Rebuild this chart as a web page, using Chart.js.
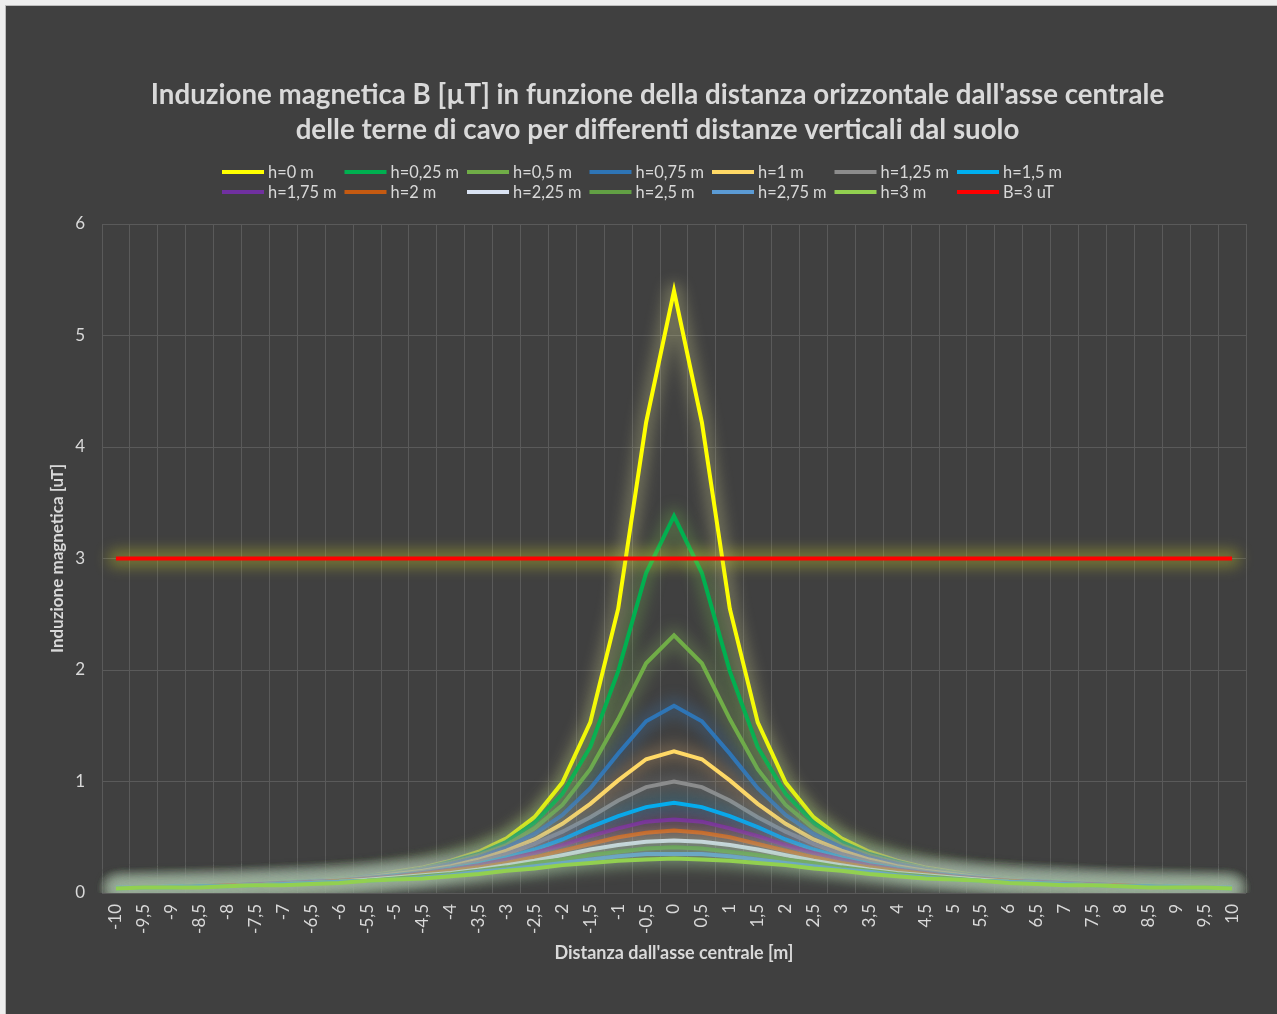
<!DOCTYPE html>
<html>
<head>
<meta charset="utf-8">
<title>Induzione magnetica B</title>
<script src="https://cdn.jsdelivr.net/npm/chart.js@4.4.1/dist/chart.umd.min.js"></script>
<style>
  html, body { margin: 0; padding: 0; background: #eeeeee; }
  #frame {
    position: absolute; left: 5px; top: 5px;
    width: 1272px; height: 1009px;
    border-left: 1px solid #bdbdbd; border-top: 1px solid #bdbdbd;
    background: #404040;
  }
  #chart { display: block; width: 1271px; height: 1008px; }
</style>
</head>
<body>
<div id="frame"><canvas id="chart" width="1271" height="1008"></canvas></div>
<script>
// Horizontal distance from the central axis [m]
const distances = ['-10','-9,5','-9','-8,5','-8','-7,5','-7','-6,5','-6','-5,5','-5','-4,5','-4','-3,5','-3','-2,5','-2','-1,5','-1','-0,5',
  '0','0,5','1','1,5','2','2,5','3','3,5','4','4,5','5','5,5','6','6,5','7','7,5','8','8,5','9','9,5','10'];

// Magnetic induction B [µT] for each vertical distance h above the ground
const h0_00 = [0.05,0.05,0.06,0.07,0.07,0.08,0.10,0.11,0.13,0.15,0.19,0.23,0.29,0.37,0.49,0.68,0.99,1.53,2.55,4.22,5.40,4.22,2.55,1.53,0.99,0.68,0.49,0.37,0.29,0.23,0.19,0.15,0.13,0.11,0.10,0.08,0.07,0.07,0.06,0.05,0.05];
const h0_25 = [0.05,0.05,0.06,0.07,0.07,0.08,0.10,0.11,0.13,0.15,0.18,0.22,0.28,0.35,0.46,0.63,0.89,1.31,1.99,2.87,3.38,2.87,1.99,1.31,0.89,0.63,0.46,0.35,0.28,0.22,0.18,0.15,0.13,0.11,0.10,0.08,0.07,0.07,0.06,0.05,0.05];
const h0_50 = [0.05,0.05,0.06,0.06,0.07,0.08,0.09,0.11,0.13,0.15,0.18,0.22,0.27,0.34,0.43,0.58,0.79,1.11,1.56,2.06,2.31,2.06,1.56,1.11,0.79,0.58,0.43,0.34,0.27,0.22,0.18,0.15,0.13,0.11,0.09,0.08,0.07,0.06,0.06,0.05,0.05];
const h0_75 = [0.05,0.05,0.06,0.06,0.07,0.08,0.09,0.11,0.12,0.15,0.17,0.21,0.26,0.32,0.41,0.53,0.70,0.94,1.25,1.54,1.68,1.54,1.25,0.94,0.70,0.53,0.41,0.32,0.26,0.21,0.17,0.15,0.12,0.11,0.09,0.08,0.07,0.06,0.06,0.05,0.05];
const h1_00 = [0.05,0.05,0.06,0.06,0.07,0.08,0.09,0.10,0.12,0.14,0.17,0.20,0.24,0.30,0.38,0.48,0.62,0.80,1.01,1.20,1.27,1.20,1.01,0.80,0.62,0.48,0.38,0.30,0.24,0.20,0.17,0.14,0.12,0.10,0.09,0.08,0.07,0.06,0.06,0.05,0.05];
const h1_25 = [0.05,0.05,0.06,0.06,0.07,0.08,0.09,0.10,0.12,0.14,0.16,0.19,0.23,0.28,0.35,0.44,0.55,0.68,0.83,0.95,1.00,0.95,0.83,0.68,0.55,0.44,0.35,0.28,0.23,0.19,0.16,0.14,0.12,0.10,0.09,0.08,0.07,0.06,0.06,0.05,0.05];
const h1_50 = [0.05,0.05,0.06,0.06,0.07,0.08,0.09,0.10,0.11,0.13,0.16,0.18,0.22,0.26,0.32,0.39,0.48,0.59,0.69,0.77,0.81,0.77,0.69,0.59,0.48,0.39,0.32,0.26,0.22,0.18,0.16,0.13,0.11,0.10,0.09,0.08,0.07,0.06,0.06,0.05,0.05];
const h1_75 = [0.04,0.05,0.05,0.06,0.07,0.08,0.09,0.10,0.11,0.13,0.15,0.18,0.21,0.25,0.30,0.36,0.43,0.51,0.58,0.64,0.66,0.64,0.58,0.51,0.43,0.36,0.30,0.25,0.21,0.18,0.15,0.13,0.11,0.10,0.09,0.08,0.07,0.06,0.05,0.05,0.04];
const h2_00 = [0.04,0.05,0.05,0.06,0.07,0.07,0.08,0.09,0.11,0.12,0.14,0.17,0.20,0.23,0.27,0.32,0.38,0.44,0.50,0.54,0.56,0.54,0.50,0.44,0.38,0.32,0.27,0.23,0.20,0.17,0.14,0.12,0.11,0.09,0.08,0.07,0.07,0.06,0.05,0.05,0.04];
const h2_25 = [0.04,0.05,0.05,0.06,0.06,0.07,0.08,0.09,0.10,0.12,0.14,0.16,0.18,0.21,0.25,0.29,0.34,0.39,0.43,0.46,0.47,0.46,0.43,0.39,0.34,0.29,0.25,0.21,0.18,0.16,0.14,0.12,0.10,0.09,0.08,0.07,0.06,0.06,0.05,0.05,0.04];
const h2_50 = [0.04,0.05,0.05,0.06,0.06,0.07,0.08,0.09,0.10,0.11,0.13,0.15,0.17,0.20,0.23,0.27,0.30,0.34,0.37,0.40,0.41,0.40,0.37,0.34,0.30,0.27,0.23,0.20,0.17,0.15,0.13,0.11,0.10,0.09,0.08,0.07,0.06,0.06,0.05,0.05,0.04];
const h2_75 = [0.04,0.05,0.05,0.06,0.06,0.07,0.08,0.09,0.10,0.11,0.12,0.14,0.16,0.19,0.21,0.24,0.27,0.30,0.33,0.35,0.35,0.35,0.33,0.30,0.27,0.24,0.21,0.19,0.16,0.14,0.12,0.11,0.10,0.09,0.08,0.07,0.06,0.06,0.05,0.05,0.04];
const h3_00 = [0.04,0.05,0.05,0.05,0.06,0.07,0.07,0.08,0.09,0.11,0.12,0.13,0.15,0.17,0.20,0.22,0.25,0.27,0.29,0.30,0.31,0.30,0.29,0.27,0.25,0.22,0.20,0.17,0.15,0.13,0.12,0.11,0.09,0.08,0.07,0.07,0.06,0.05,0.05,0.05,0.04];
// Reference limit B = 3 µT
const limit3uT = [3,3,3,3,3,3,3,3,3,3,3,3,3,3,3,3,3,3,3,3,3,3,3,3,3,3,3,3,3,3,3,3,3,3,3,3,3,3,3,3,3];

const seriesNames = ['h=0 m','h=0,25 m','h=0,5 m','h=0,75 m','h=1 m','h=1,25 m','h=1,5 m',
                     'h=1,75 m','h=2 m','h=2,25 m','h=2,5 m','h=2,75 m','h=3 m','B=3 uT'];
const seriesValues = [h0_00,h0_25,h0_50,h0_75,h1_00,h1_25,h1_50,h1_75,h2_00,h2_25,h2_50,h2_75,h3_00,limit3uT];
const seriesColors = ['#FFFF00','#00B050','#70AD47','#2E75B6','#FFD966','#8C8C8C','#00B0F0',
                      '#7030A0','#C55A11','#DAE3F3','#62A044','#5B9BD5','#92D050','#FF0000'];
const glowColors   = ['#F0F0A0','#7FC850','#8FBF60','#3F7FC0','#E8B070','#A0A0A0','#40B8E8',
                      '#8050B0','#C07040','#E0E8F4','#80B060','#7FA8D8','#B0D880','#D8D820'];
const glowAlpha    = [0.26,0.26,0.26,0.26,0.26,0.26,0.26,0.26,0.26,0.3,0.26,0.26,0.3,0.36];

const titleLines = ["Induzione magnetica B [\u00B5T] in funzione della distanza orizzontale dall'asse centrale",
                    'delle terne di cavo per differenti distanze verticali dal suolo'];

const TEXT = '#d9d9d9';
const FONT = 'Lato, "Open Sans", sans-serif';

function rgba(hex, a) {
  const n = parseInt(hex.slice(1), 16);
  return `rgba(${(n >> 16) & 255},${(n >> 8) & 255},${n & 255},${a})`;
}

// Soft halo drawn under each line, following the points placed by the scales
const glowPlugin = {
  id: 'glow',
  beforeDatasetDraw(chart, args) {
    const { ctx, chartArea: a } = chart;
    const pts = args.meta.data;
    if (!pts.length) return;
    ctx.save();
    ctx.beginPath();
    ctx.rect(a.left - 30, a.top - 30, a.right - a.left + 60, a.bottom - a.top + 30);
    ctx.clip();
    ctx.filter = 'blur(7px)';
    ctx.strokeStyle = rgba(glowColors[args.index], glowAlpha[args.index]);
    ctx.lineWidth = 17;
    ctx.lineJoin = 'round';
    ctx.lineCap = 'round';
    ctx.beginPath();
    pts.forEach((p, i) => (i ? ctx.lineTo(p.x, p.y) : ctx.moveTo(p.x, p.y)));
    ctx.stroke();
    ctx.restore();
  }
};

// Two-line title and a grid legend (7 columns) above the plot area
const headerPlugin = {
  id: 'header',
  afterDraw(chart) {
    const { ctx, chartArea: a } = chart;
    ctx.save();
    ctx.fillStyle = TEXT;
    ctx.textAlign = 'center';
    ctx.textBaseline = 'middle';
    ctx.font = `bold 27.7px ${FONT}`;
    const cx = chart.width / 2 + 16;
    titleLines.forEach((t, i) => ctx.fillText(t, cx, a.top - 129 + i * 35));

    ctx.font = `16.4px ${FONT}`;
    ctx.textAlign = 'left';
    const x0 = a.left + 120, colW = 122.5;
    chart.data.datasets.forEach((ds, i) => {
      const col = i % 7, row = Math.floor(i / 7);
      const x = x0 + col * colW, y = a.top - 52 + row * 20;
      ctx.strokeStyle = ds.borderColor;
      ctx.lineWidth = 4;
      ctx.beginPath();
      ctx.moveTo(x, y);
      ctx.lineTo(x + 42, y);
      ctx.stroke();
      ctx.fillStyle = TEXT;
      ctx.fillText(ds.label, x + 46, y + 1);
    });
    ctx.restore();
  }
};

const n = seriesNames.length;
const datasets = seriesNames.map((name, i) => ({
  label: name,
  data: seriesValues[i],
  borderColor: seriesColors[i],
  backgroundColor: seriesColors[i],
  borderWidth: 4,
  pointRadius: 0,
  tension: 0,
  fill: false,
  order: n - i,
  clip: { left: 30, right: 30, top: 30, bottom: 0 }
}));

new Chart(document.getElementById('chart'), {
  type: 'line',
  data: { labels: distances, datasets },
  plugins: [glowPlugin, headerPlugin],
  options: {
    responsive: false,
    animation: false,
    events: [],
    layout: { padding: { left: 40, right: 31, top: 218, bottom: 47 } },
    plugins: {
      legend: { display: false },
      title: { display: false },
      tooltip: { enabled: false }
    },
    scales: {
      x: {
        offset: true,
        grid: { offset: true, color: '#5a5a5a', lineWidth: 1, drawTicks: false },
        border: { display: false },
        ticks: {
          color: TEXT, font: { family: FONT, size: 17 },
          minRotation: 90, maxRotation: 90, autoSkip: false, padding: 11
        },
        title: {
          display: true, text: "Distanza dall'asse centrale [m]", color: TEXT,
          font: { family: FONT, size: 18, weight: 'bold' }, padding: { top: 4, bottom: 3 }
        },
        afterFit(scale) { scale.height = 74; }
      },
      y: {
        min: 0, max: 6,
        grid: { color: '#5a5a5a', lineWidth: 1, drawTicks: false },
        border: { display: false },
        ticks: { stepSize: 1, color: TEXT, font: { family: FONT, size: 17 }, padding: 17 },
        title: {
          display: true, text: 'Induzione magnetica [uT]', color: TEXT,
          font: { family: FONT, size: 17, weight: 'bold' }, padding: { top: 1, bottom: 1 }
        },
        afterFit(scale) { scale.width = 56; }
      }
    }
  }
});
</script>
</body>
</html>
